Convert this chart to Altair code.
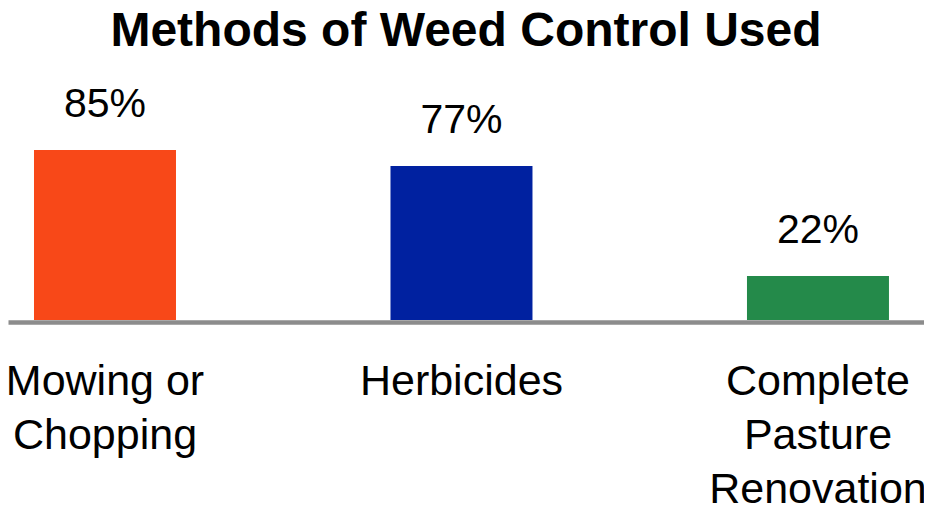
import altair as alt
import pandas as pd

categories = ["Mowing or|Chopping", "Herbicides", "Complete|Pasture|Renovation"]
values = [85, 77, 22]
colors = ["#F84818", "#0021A0", "#248A4A"]

df = pd.DataFrame({"category": categories, "value": values})

FONT = "Liberation Sans"

x = alt.X(
    "category:N",
    sort=None,
    title=None,
    scale=alt.Scale(paddingInner=0.6017, paddingOuter=0.0856, align=0.426),
    axis=alt.Axis(
        labelExpr="split(datum.label, '|')",
        labelAngle=0,
        labelFontSize=43,
        labelFont=FONT,
        labelColor="#000000",
        labelLineHeight=54,
        labelBaseline="alphabetic",
        labelPadding=72,
        labelLimit=0,
        ticks=False,
        domain=True,
        domainColor="#8c8c8c",
        domainWidth=4.5,
        offset=2,
        grid=False,
        labelOverlap=False,
    ),
)
y = alt.Y(
    "value:Q",
    scale=alt.Scale(domain=[0, 100]),
    axis=None,
)

base = alt.Chart(df)

bars = base.mark_bar().encode(
    x=x,
    y=y,
    color=alt.Color("category:N", sort=None,
                    scale=alt.Scale(domain=categories, range=colors), legend=None),
)

labels = base.transform_calculate(label="datum.value + '%'").mark_text(
    font=FONT, fontSize=41, baseline="alphabetic", dy=-33, color="#000000"
).encode(x=x, y=y, text="label:N")

chart = alt.layer(bars, labels).properties(
    width=916,
    height=200,
    title=alt.TitleParams(
        "Methods of Weed Control Used",
        font=FONT,
        fontSize=48,
        fontWeight="bold",
        color="#000000",
        anchor="middle",
        offset=28,
    ),
    autosize=alt.AutoSizeParams(type="none"),
    padding={"left": 0, "top": 112, "right": 0, "bottom": 189},
).configure_view(stroke=None)

chart.save("out.html", embed_options={"renderer": "svg", "actions": False})
